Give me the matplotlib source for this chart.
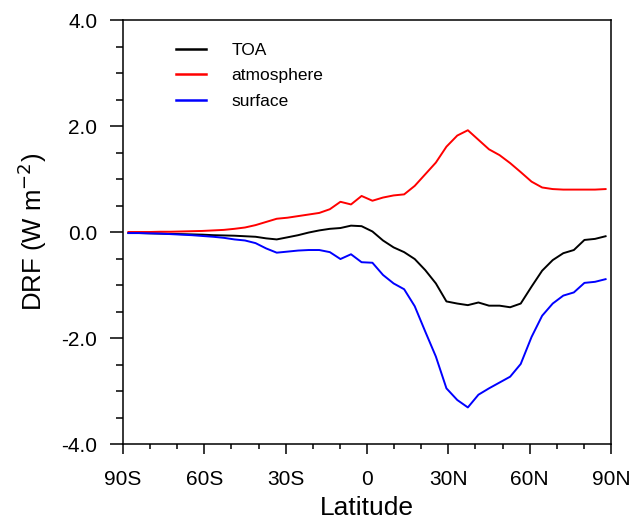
import matplotlib
matplotlib.use("Agg")
import matplotlib.pyplot as plt
from matplotlib.ticker import MultipleLocator

plt.rcParams['font.family'] = ['Liberation Sans', 'DejaVu Sans']

# latitude band centres (46 bands, ~3.9 deg)
lat = [-88.0, -84.1, -80.2, -76.3, -72.4, -68.5, -64.6, -60.7, -56.7, -52.8,
       -48.9, -45.0, -41.1, -37.2, -33.3, -29.3, -25.4, -21.5, -17.6, -13.7,
       -9.8, -5.9, -2.0, 2.0, 5.9, 9.8, 13.7, 17.6, 21.5, 25.4,
       29.3, 33.3, 37.2, 41.1, 45.0, 48.9, 52.8, 56.7, 60.7, 64.6,
       68.5, 72.4, 76.3, 80.2, 84.1, 88.0]

toa = [-0.02, -0.02, -0.025, -0.03, -0.035, -0.04, -0.045, -0.05, -0.06, -0.065,
       -0.07, -0.08, -0.09, -0.12, -0.14, -0.10, -0.06, -0.01, 0.03, 0.06,
       0.075, 0.12, 0.11, 0.01, -0.16, -0.29, -0.38, -0.51, -0.72, -0.97,
       -1.31, -1.35, -1.38, -1.33, -1.39, -1.39, -1.42, -1.35, -1.03, -0.73,
       -0.53, -0.40, -0.34, -0.15, -0.13, -0.08]

atmosphere = [0.0, 0.0, 0.0, 0.005, 0.005, 0.01, 0.015, 0.02, 0.03, 0.04,
              0.06, 0.085, 0.13, 0.19, 0.25, 0.27, 0.30, 0.33, 0.36, 0.43,
              0.57, 0.52, 0.68, 0.59, 0.65, 0.69, 0.71, 0.87, 1.09, 1.31,
              1.61, 1.82, 1.92, 1.74, 1.56, 1.45, 1.30, 1.13, 0.95, 0.84,
              0.81, 0.80, 0.80, 0.80, 0.80, 0.81]

surface = [-0.02, -0.02, -0.025, -0.03, -0.04, -0.05, -0.06, -0.075, -0.09, -0.11,
           -0.14, -0.16, -0.21, -0.31, -0.39, -0.37, -0.35, -0.34, -0.34, -0.38,
           -0.51, -0.42, -0.57, -0.58, -0.81, -0.97, -1.08, -1.40, -1.88, -2.35,
           -2.95, -3.17, -3.31, -3.07, -2.95, -2.84, -2.73, -2.49, -1.98, -1.58,
           -1.35, -1.20, -1.14, -0.96, -0.94, -0.89]

xticks = [-90, -60, -30, 0, 30, 60, 90]
xticklabels = ['90S', '60S', '30S', '0', '30N', '60N', '90N']
yticks = [-4, -2, 0, 2, 4]
yticklabels = ['-4.0', '-2.0', '0.0', '2.0', '4.0']

fig = plt.figure(figsize=(6.35, 5.22), dpi=100)
ax = fig.add_axes([123/635, 78/522, 488/635, 424/522])

ax.plot(lat, toa, color='black', lw=1.4, label='TOA')
ax.plot(lat, atmosphere, color='#ff0000', lw=1.4, label='atmosphere')
ax.plot(lat, surface, color='#0000ff', lw=1.4, label='surface')

ax.set_xlim(-90, 90)
ax.set_ylim(-4, 4)
ax.set_xticks(xticks)
ax.set_xticklabels(xticklabels)
ax.set_yticks(yticks)
ax.set_yticklabels(yticklabels)
ax.xaxis.set_minor_locator(MultipleLocator(10))
ax.yaxis.set_minor_locator(MultipleLocator(0.5))

for s in ax.spines.values():
    s.set_linewidth(1.1)

ax.tick_params(which='both', direction='out', width=1.1, top=False, right=False)
ax.tick_params(axis='x', which='major', length=7.5, pad=11, labelsize=15)
ax.tick_params(axis='x', which='minor', length=3.8)
ax.tick_params(axis='y', which='major', length=9.5, pad=9, labelsize=15)
ax.tick_params(axis='y', which='minor', length=5)

ax.set_xlabel('Latitude', fontsize=19, labelpad=5.5)
ax.set_ylabel('DRF (W m$^{\\mathsf{-2}}$)', fontsize=18.5, labelpad=9)

leg = ax.legend(loc='upper left', bbox_to_anchor=(176/635, 1 - 42.5/522),
                bbox_transform=fig.transFigure, frameon=False, fontsize=12.5,
                handlelength=1.7, handletextpad=1.5, labelspacing=0.6,
                borderpad=0, borderaxespad=0)
for h in leg.get_lines():
    h.set_linewidth(1.8)

fig.savefig('out.png', dpi=100)
